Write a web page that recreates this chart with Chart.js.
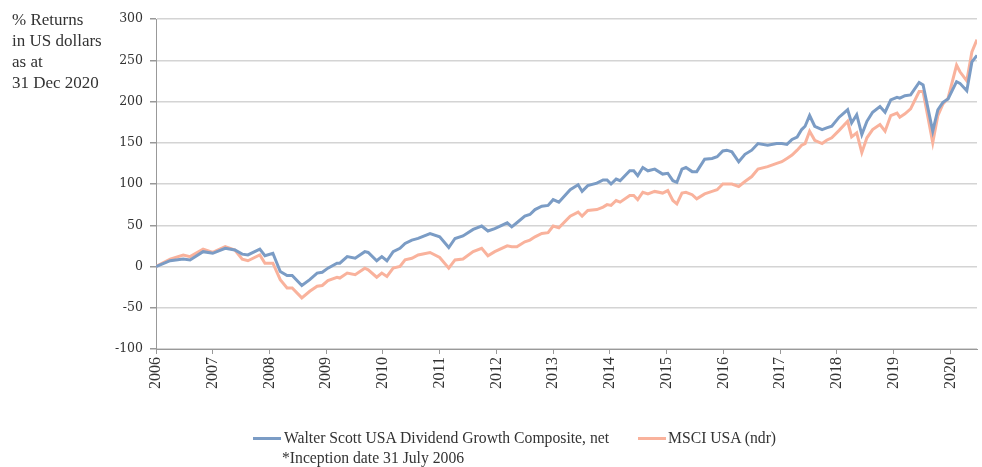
<!DOCTYPE html>
<html>
<head>
<meta charset="utf-8">
<script src="https://cdn.jsdelivr.net/npm/chart.js@4.4.1/dist/chart.umd.min.js"></script>
<style>
    body { margin: 0; background: #fff; }
    #wrap { position: relative; width: 982px; height: 467px; }
    #sideLabel {
        position: absolute; left: 12px; top: 9px;
        font-family: "Liberation Serif", serif; font-size: 17px; line-height: 21px; color: #333;
    }
    .legend {
        position: absolute; font-family: "Liberation Serif", serif; font-size: 15.7px; color: #333; white-space: nowrap;
    }
    .swatch { position: absolute; height: 3px; width: 28px; }
</style>
</head>
<body>
<div id="wrap">
    <canvas id="returnsChart" width="982" height="467"></canvas>
    <div id="sideLabel">% Returns<br>in US dollars<br>as at<br>31 Dec 2020</div>
    <div class="swatch" style="left:253px; top:437px; background:#7b9cc5;"></div>
    <div class="legend" style="left:284px; top:429px;">Walter Scott USA Dividend Growth Composite, net</div>
    <div class="legend" style="left:282px; top:449px;">*Inception date 31 July 2006</div>
    <div class="swatch" style="left:638px; top:437px; background:#f9b29c;"></div>
    <div class="legend" style="left:668px; top:429px;">MSCI USA (ndr)</div>
</div>
<script>
        // dates as decimal years, values are cumulative % returns
        const dates = [2006.00, 2006.25, 2006.48, 2006.60, 2006.83, 2007.00, 2007.22, 2007.39, 2007.52, 2007.62,
            2007.83, 2007.92, 2008.06, 2008.19, 2008.31, 2008.40, 2008.57, 2008.71, 2008.84, 2008.93,
            2009.03, 2009.19, 2009.24, 2009.37, 2009.51, 2009.68, 2009.74, 2009.89, 2009.98, 2010.07,
            2010.18, 2010.30, 2010.39, 2010.51, 2010.62, 2010.83, 2011.00, 2011.16, 2011.27, 2011.41,
            2011.59, 2011.74, 2011.85, 2011.97, 2012.19, 2012.27, 2012.36, 2012.50, 2012.59, 2012.68,
            2012.80, 2012.91, 2013.00, 2013.10, 2013.30, 2013.44, 2013.51, 2013.61, 2013.77, 2013.88,
            2013.95, 2014.02, 2014.11, 2014.18, 2014.35, 2014.42, 2014.49, 2014.58, 2014.67, 2014.79,
            2014.93, 2015.02, 2015.11, 2015.18, 2015.27, 2015.34, 2015.45, 2015.53, 2015.67, 2015.80,
            2015.89, 2015.99, 2016.06, 2016.15, 2016.27, 2016.38, 2016.50, 2016.61, 2016.78, 2016.94,
            2017.03, 2017.12, 2017.21, 2017.30, 2017.38, 2017.44, 2017.52, 2017.61, 2017.74, 2017.82,
            2017.91, 2018.04, 2018.19, 2018.26, 2018.35, 2018.44, 2018.53, 2018.63, 2018.76, 2018.85,
            2018.95, 2019.06, 2019.11, 2019.20, 2019.30, 2019.45, 2019.52, 2019.69, 2019.78, 2019.87,
            2019.96, 2020.11, 2020.17, 2020.29, 2020.38, 2020.47];

        const walterScott = [0, 7, 9, 8, 18, 16, 22, 20, 15, 14,
            21, 13, 16, -6, -11, -11, -23, -16, -8, -7,
            -2, 4, 4, 12, 10, 18, 17, 7, 12, 7,
            18, 22, 28, 32, 34, 40, 36, 23, 34, 37,
            45, 49, 43, 46, 53, 48, 53, 61, 63, 69,
            73, 74, 81, 78, 93, 99, 91, 98, 101, 105,
            105, 100, 106, 104, 116, 116, 110, 120, 116, 118,
            112, 113, 104, 102, 118, 120, 115, 115, 130, 131,
            133, 140, 141, 139, 127, 136, 141, 149, 147, 149,
            149, 148, 154, 157, 166, 170, 183, 170, 166, 168,
            170, 181, 190, 174, 184, 160, 176, 187, 194, 187,
            202, 205, 204, 207, 208, 223, 220, 164, 190, 199,
            203, 224, 222, 213, 248, 256];

        const msciUsa = [0, 9, 14, 12, 21, 17, 24, 20, 9, 7,
            14, 4, 4, -16, -26, -26, -38, -30, -24, -23,
            -17, -13, -14, -8, -10, -2, -4, -13, -8, -12,
            -2, 0, 8, 10, 14, 17, 11, -2, 8, 9,
            18, 22, 13, 18, 25, 24, 24, 30, 32, 36,
            40, 41, 49, 47, 61, 66, 61, 68, 69, 72,
            75, 74, 80, 78, 86, 86, 81, 90, 88, 91,
            89, 92, 80, 76, 89, 90, 87, 82, 88, 91,
            93, 100, 100, 100, 97, 103, 109, 118, 121, 125,
            127, 131, 135, 141, 147, 149, 164, 153, 149, 153,
            156, 165, 176, 157, 162, 138, 156, 166, 172, 164,
            183, 186, 181, 185, 191, 212, 212, 150, 183, 197,
            204, 244, 236, 225, 260, 275];

        const years = [2006, 2007, 2008, 2009, 2010, 2011, 2012, 2013, 2014, 2015, 2016, 2017, 2018, 2019, 2020];
        const yTicks = [-100, -50, 0, 50, 100, 150, 200, 250, 300];

        function toPoints(values) {
            return values.map((v, i) => ({ x: dates[i], y: v }));
        }

        const ctx = document.getElementById('returnsChart').getContext('2d');
        window.returnsChart = new Chart(ctx, {
            type: 'line',
            data: {
                datasets: [{
                    label: 'Walter Scott USA Dividend Growth Composite, net',
                    data: toPoints(walterScott),
                    borderColor: '#7b9cc5',
                    borderWidth: 3,
                    pointRadius: 0,
                    tension: 0
                }, {
                    label: 'MSCI USA (ndr)',
                    data: toPoints(msciUsa),
                    borderColor: '#f9b29c',
                    borderWidth: 3,
                    pointRadius: 0,
                    tension: 0
                }]
            },
            options: {
                responsive: false,
                animation: false,
                devicePixelRatio: 1,
                layout: { padding: { left: 0, right: 5, top: 19, bottom: 0 } },
                plugins: {
                    legend: { display: false },
                    tooltip: { enabled: false }
                },
                scales: {
                    x: {
                        type: 'linear',
                        min: 2006,
                        max: 2020.47,
                        afterBuildTicks: scale => { scale.ticks = years.map(v => ({ value: v })); },
                        afterFit: scale => { scale.height = 118; },
                        ticks: {
                            autoSkip: false,
                            minRotation: 90,
                            maxRotation: 90,
                            padding: 3,
                            color: '#333',
                            font: { family: 'Liberation Serif', size: 16 },
                            callback: v => String(v)
                        },
                        grid: { drawOnChartArea: false, tickLength: 5, tickColor: '#999' },
                        border: { color: '#999' }
                    },
                    y: {
                        min: -100,
                        max: 300,
                        afterBuildTicks: scale => { scale.ticks = yTicks.map(v => ({ value: v })); },
                        afterFit: scale => { scale.width = 156; },
                        ticks: {
                            padding: 7,
                            color: '#333',
                            font: { family: 'DejaVu Serif', size: 12.5 }
                        },
                        grid: { color: '#d4d4d4', lineWidth: 1.5, tickLength: 6, tickColor: '#999' },
                        border: { color: '#999' }
                    }
                }
            }
        });
</script>
</body>
</html>
